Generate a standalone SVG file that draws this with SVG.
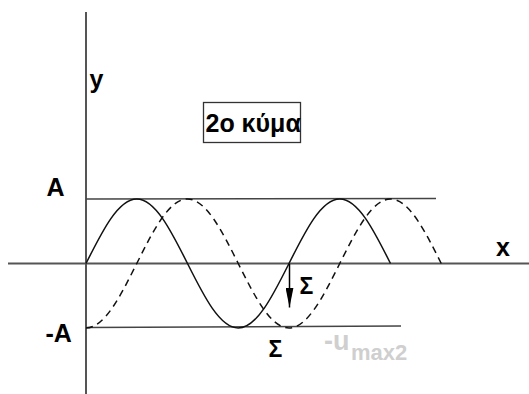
<svg xmlns="http://www.w3.org/2000/svg" width="529" height="394" viewBox="0 0 529 394">
<style>
.axis{stroke:#555;stroke-width:2;fill:none}
.lvl{stroke:#444;stroke-width:1.5;fill:none}
.wave{stroke:#111;stroke-width:1.5;fill:none}
.dash{stroke:#111;stroke-width:1.5;fill:none;stroke-dasharray:7 5}
.lbl{font-family:"Liberation Sans",Arial,sans-serif;font-weight:bold;font-size:25px;fill:#000}
.sig{font-family:"Liberation Sans",Arial,sans-serif;font-weight:bold;font-size:23px;fill:#000}
.grey{font-family:"Liberation Sans",Arial,sans-serif;font-weight:bold;fill:#cfcfcf}
</style>
<defs>
<marker id="ah" markerWidth="20" markerHeight="8" refX="20" refY="4" orient="auto" markerUnits="userSpaceOnUse" viewBox="0 0 20 8">
<polygon points="0,0 20,4 0,8" fill="#000"/>
</marker>
</defs>
<rect width="529" height="394" fill="#fff"/>
<g id="axes">
<line class="axis" x1="86" y1="12" x2="86" y2="394"/>
<line class="axis" x1="8" y1="263.5" x2="529" y2="263.5"/>
</g>
<g id="levels">
<line class="lvl" x1="86" y1="199" x2="436" y2="198.5"/>
<line class="lvl" x1="86" y1="327.5" x2="401" y2="326"/>
</g>
<g id="wave1">
<path class="wave" d="M86,263.5 C102.55,230.46 118.38,199 136.75,199 C155.12,199 170.95,230.46 187.5,263.5 C204.05,296.54 219.88,328 238.25,328 C256.62,328 272.45,296.54 289,263.5 C305.55,230.46 321.38,199 339.75,199 C358.12,199 373.95,230.46 390.5,263.5"/>
</g>
<g id="wave2">
<path class="dash" d="M86,328 C104.37,328 120.2,296.54 136.75,263.5 C153.3,230.46 169.13,199 187.5,199 C205.87,199 221.7,230.46 238.25,263.5 C254.8,296.54 270.63,328 289,328 C307.37,328 323.2,296.54 339.75,263.5 C356.3,230.46 372.13,199 390.5,199 C408.87,199 424.7,230.46 441.25,263.5"/>
</g>
<g id="connectors">
<line x1="289.5" y1="264" x2="289.5" y2="307.5" stroke="#000" stroke-width="1.5" marker-end="url(#ah)"/>
</g>
<g id="title">
<rect x="203.5" y="102.5" width="97" height="40" fill="#fff" stroke="#333" stroke-width="1.3"/>
<text class="lbl" x="205.5" y="132" style="font-size:25px">2ο κύμα</text>
</g>
<g id="labels">
<text class="lbl" x="89.5" y="88">y</text>
<text class="lbl" x="46.5" y="195.5">A</text>
<text class="lbl" x="45.5" y="341.5">-A</text>
<text class="lbl" x="496" y="256">x</text>
<text class="sig" x="299.5" y="293.5">Σ</text>
<text class="sig" x="268.5" y="356.5">Σ</text>
<text class="grey" x="324" y="350" style="font-size:27px">-u</text>
<text class="grey" x="351" y="360" style="font-size:22px">max2</text>
</g>
</svg>
